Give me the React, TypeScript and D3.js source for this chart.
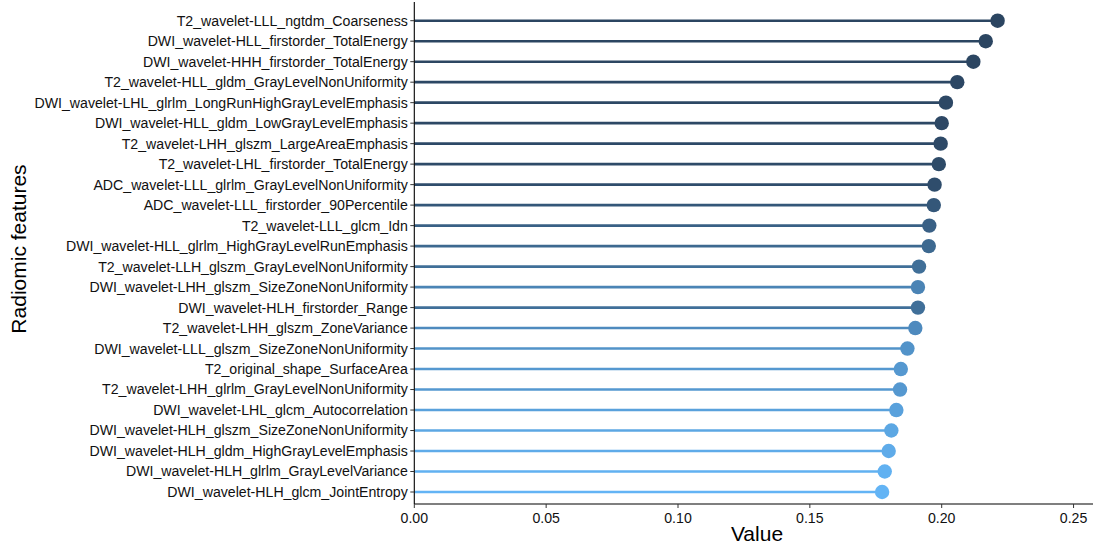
import React from "react";
import * as d3 from "d3";

const features: string[] = [
  "T2_wavelet-LLL_ngtdm_Coarseness",
  "DWI_wavelet-HLL_firstorder_TotalEnergy",
  "DWI_wavelet-HHH_firstorder_TotalEnergy",
  "T2_wavelet-HLL_gldm_GrayLevelNonUniformity",
  "DWI_wavelet-LHL_glrlm_LongRunHighGrayLevelEmphasis",
  "DWI_wavelet-HLL_gldm_LowGrayLevelEmphasis",
  "T2_wavelet-LHH_glszm_LargeAreaEmphasis",
  "T2_wavelet-LHL_firstorder_TotalEnergy",
  "ADC_wavelet-LLL_glrlm_GrayLevelNonUniformity",
  "ADC_wavelet-LLL_firstorder_90Percentile",
  "T2_wavelet-LLL_glcm_Idn",
  "DWI_wavelet-HLL_glrlm_HighGrayLevelRunEmphasis",
  "T2_wavelet-LLH_glszm_GrayLevelNonUniformity",
  "DWI_wavelet-LHH_glszm_SizeZoneNonUniformity",
  "DWI_wavelet-HLH_firstorder_Range",
  "T2_wavelet-LHH_glszm_ZoneVariance",
  "DWI_wavelet-LLL_glszm_SizeZoneNonUniformity",
  "T2_original_shape_SurfaceArea",
  "T2_wavelet-LHH_glrlm_GrayLevelNonUniformity",
  "DWI_wavelet-LHL_glcm_Autocorrelation",
  "DWI_wavelet-HLH_glszm_SizeZoneNonUniformity",
  "DWI_wavelet-HLH_gldm_HighGrayLevelEmphasis",
  "DWI_wavelet-HLH_glrlm_GrayLevelVariance",
  "DWI_wavelet-HLH_glcm_JointEntropy",
];

const values: number[] = [
  0.2212, 0.2167, 0.212, 0.2059, 0.2016, 0.2, 0.1996, 0.1989, 0.1973, 0.197,
  0.1953, 0.1951, 0.1914, 0.191, 0.191, 0.19, 0.187, 0.1845, 0.1842, 0.1828,
  0.1809, 0.1799, 0.1784, 0.1774,
];

// colour score (0 = lightest, 1 = darkest)
const colorScores: number[] = [
  1.0, 1.0, 0.99, 0.98, 0.97, 0.97, 0.96, 0.95, 0.925, 0.84, 0.755, 0.68,
  0.626, 0.435, 0.62, 0.374, 0.3, 0.25, 0.25, 0.17, 0.12, 0.08, 0.03, 0.0,
];

const xTicks: number[] = [0, 0.05, 0.1, 0.15, 0.2, 0.25];

const W = 1095;
const H = 545;
const left = 414.3;
const axisY = 504;
const plotRight = 1093;
const topY = 2;

export default function App() {
  const x = d3.scaleLinear().domain([0, 0.25]).range([left, left + 0.25 * 2637]);
  const y = d3.scalePoint<string>().domain(features).range([20.7, 492]);
  const color = d3
    .scaleLinear<string>()
    .domain([0, 1])
    .range(["#63B4F5", "#2B4561"])
    .interpolate(d3.interpolateRgb);
  const font = "'Liberation Sans', Arial, sans-serif";

  return (
    <svg
      width={W}
      height={H}
      style={{ position: "absolute", left: 0, top: 0, background: "#fff" }}
      fontFamily={font}
    >
      {features.map((f, i) => (
        <g key={f}>
          <line
            x1={x(0)}
            x2={x(values[i])}
            y1={y(f)}
            y2={y(f)}
            stroke={color(colorScores[i])}
            strokeWidth={2.6}
          />
          <circle cx={x(values[i])} cy={y(f)} r={7.2} fill={color(colorScores[i])} />
        </g>
      ))}
      {/* y axis */}
      <line x1={left} x2={left} y1={topY} y2={axisY} stroke="#000" strokeWidth={1.1} />
      {features.map((f) => (
        <g key={"t" + f}>
          <line x1={left - 4} x2={left} y1={y(f)} y2={y(f)} stroke="#333" strokeWidth={1} />
          <text
            x={left - 6.5}
            y={y(f)}
            dy="0.35em"
            textAnchor="end"
            fontSize={14.15}
            fill="#111"
          >
            {f}
          </text>
        </g>
      ))}
      {/* x axis */}
      <line x1={left} x2={plotRight} y1={axisY} y2={axisY} stroke="#000" strokeWidth={1.1} />
      {xTicks.map((t) => (
        <g key={"x" + t}>
          <line x1={x(t)} x2={x(t)} y1={axisY} y2={axisY + 4} stroke="#333" strokeWidth={1} />
          <text x={x(t)} y={axisY + 19} textAnchor="middle" fontSize={14.15} fill="#111">
            {d3.format(".2f")(t)}
          </text>
        </g>
      ))}
      <text x={757} y={541} textAnchor="middle" fontSize={21} fill="#000">
        Value
      </text>
      <text
        transform={`translate(26, 249) rotate(-90)`}
        textAnchor="middle"
        fontSize={21}
        fill="#000"
      >
        Radiomic features
      </text>
    </svg>
  );
}
